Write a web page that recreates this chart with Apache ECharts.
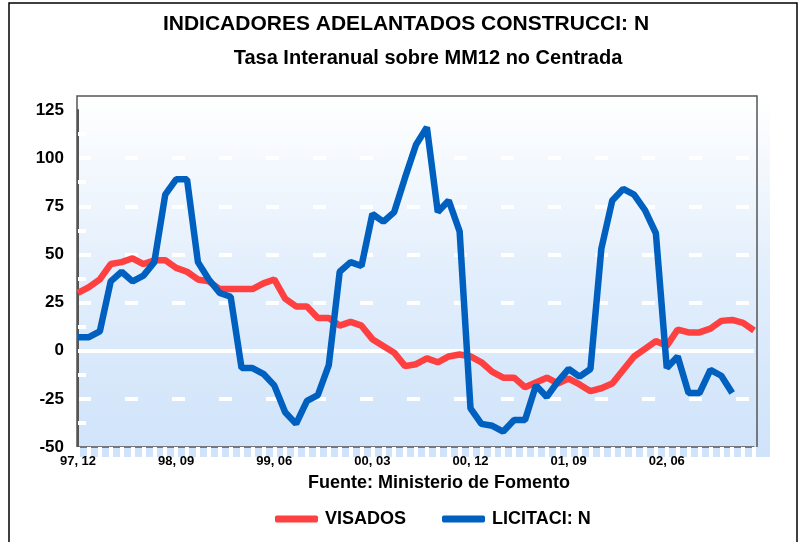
<!DOCTYPE html>
<html>
<head>
<meta charset="utf-8">
<script src="https://cdn.jsdelivr.net/npm/echarts@6/dist/echarts.min.js"></script>
<style>
html,body{margin:0;padding:0;background:#fff;}
#chart{width:805px;height:542px;}
</style>
</head>
<body>
<div id="chart"></div>
<script>
const titleText = 'INDICADORES ADELANTADOS CONSTRUCCI: N';
const subtitleText = 'Tasa Interanual sobre MM12 no Centrada';
const sourceText = 'Fuente: Ministerio de Fomento';
const seriesNames = ['VISADOS', 'LICITACI: N'];

const categories = [
  '97, 12',
  '98, 01','98, 02','98, 03','98, 04','98, 05','98, 06','98, 07','98, 08','98, 09','98, 10','98, 11','98, 12',
  '99, 01','99, 02','99, 03','99, 04','99, 05','99, 06','99, 07','99, 08','99, 09','99, 10','99, 11','99, 12',
  '00, 01','00, 02','00, 03','00, 04','00, 05','00, 06','00, 07','00, 08','00, 09','00, 10','00, 11','00, 12',
  '01, 01','01, 02','01, 03','01, 04','01, 05','01, 06','01, 07','01, 08','01, 09','01, 10','01, 11','01, 12',
  '02, 01','02, 02','02, 03','02, 04','02, 05','02, 06','02, 07','02, 08','02, 09','02, 10','02, 11','02, 12',
  '03, 01','03, 02'
];

const visados = [
  30, 33, 37, 45, 46, 48, 45, 47, 47, 43, 41, 37, 36,
  32, 32, 32, 32, 35, 37, 27, 23, 23, 17, 17, 13,
  15, 13, 6, 2.5, -1, -8, -7, -4, -6, -3, -2, -3,
  -6, -11, -14, -14, -19, -16.5, -14, -17, -14.5, -17.5, -21, -19.5,
  -17, -10, -3, 1, 5, 2.5, 11, 9.5, 9.5, 11.5, 15.5, 16,
  14.5, 10.5
];

const licitacion = [
  7, 7, 10, 36, 41, 36, 39, 46, 81, 89, 89, 46, 37,
  30, 28, -9, -9, -12, -18, -32, -38, -26, -23, -7.5, 41,
  46, 44, 71, 67, 72, 90, 107, 116, 72, 78, 62, -30,
  -38, -39, -42, -36, -36, -18, -24, -16, -9.5, -13.5, -9.5, 53,
  78, 84, 81, 73, 61, -9, -3, -22, -22, -10, -13, -22
];

const yTicks = { min: -50, max: 125, step: 25 };

const chart = echarts.init(document.getElementById('chart'), null, { renderer: 'canvas' });
const FONT = "'Liberation Sans', Arial, sans-serif";

chart.setOption({
  animation: false,
  textStyle: { fontFamily: FONT },
  title: [
    { text: titleText, left: 401, top: 9, textAlign: 'center',
      textStyle: { fontFamily: FONT, fontSize: 21, fontWeight: 'bold', color: '#000' } },
    { text: subtitleText, left: 423, top: 43, textAlign: 'center',
      textStyle: { fontFamily: FONT, fontSize: 20, fontWeight: 'bold', color: '#000' } },
    { text: sourceText, left: 434, top: 469, textAlign: 'center',
      textStyle: { fontFamily: FONT, fontSize: 18, fontWeight: 'bold', color: '#000' } }
  ],
  legend: {
    data: seriesNames,
    left: 270, top: 505,
    itemWidth: 43, itemHeight: 7, itemGap: 36,
    icon: 'roundRect',
    textStyle: { fontFamily: FONT, fontSize: 18, fontWeight: 'bold', color: '#000', padding: [0, 0, 0, 2] }
  },
  graphic: [
    { type: 'rect', z: -10, silent: true,
      shape: { x: 78, y: 96, width: 692, height: 361 },
      style: { fill: new echarts.graphic.LinearGradient(0, 0, 0, 1, [
        { offset: 0, color: '#ffffff' }, { offset: 0.5, color: '#e2eefc' }, { offset: 1, color: '#cfe3fa' }
      ]) } },
    { type: 'polyline', z: 1, silent: true,
      shape: { points: [[77, 447], [77, 96], [757, 96], [757, 447]] },
      style: { stroke: '#555', lineWidth: 1.5, fill: null } },
    { type: 'rect', z: 1, silent: true,
      shape: { x: 9, y: 3, width: 788, height: 600 },
      style: { stroke: '#000', lineWidth: 1.5, fill: null } }
  ],
  grid: { left: 78, right: 51, top: 110, bottom: 95, containLabel: false },
  xAxis: {
    type: 'category',
    data: categories,
    boundaryGap: false,
    axisLine: { show: true, onZero: false, lineStyle: { color: '#555', width: 1.5 } },
    axisTick: { show: true, interval: 0, length: 11, lineStyle: { color: '#fff', width: 4 } },
    axisLabel: { interval: 8, margin: 8, fontFamily: FONT, fontSize: 13, fontWeight: 'bold', color: '#000' },
    splitLine: { show: false }
  },
  yAxis: {
    type: 'value',
    min: yTicks.min, max: yTicks.max, interval: yTicks.step,
    axisLine: { show: true, lineStyle: { color: '#555', width: 2 } },
    axisTick: { show: false, inside: true },
    minorTick: { show: true, splitNumber: 2, length: 8, lineStyle: { color: '#fff', width: 4 } },
    axisLabel: { margin: 14, fontFamily: FONT, fontSize: 17, fontWeight: 'bold', color: '#000' },
    splitLine: { show: true, showMinLine: false, showMaxLine: false,
      lineStyle: { color: '#fff', width: 4, type: [13, 34] } }
  },
  series: [
    {
      name: seriesNames[0], type: 'line', data: visados,
      showSymbol: false, symbol: 'none',
      lineStyle: { color: '#ff4040', width: 6.5 }, itemStyle: { color: '#ff4040' },
      z: 3,
      markLine: {
        silent: true, symbol: 'none', z: 1,
        label: { show: false },
        lineStyle: { color: '#fff', width: 4, type: 'solid' },
        data: [{ yAxis: 0 }]
      }
    },
    {
      name: seriesNames[1], type: 'line', data: licitacion,
      showSymbol: false, symbol: 'none',
      lineStyle: { color: '#0060c0', width: 6.5 }, itemStyle: { color: '#0060c0' },
      z: 4
    }
  ]
});
</script>
</body>
</html>
